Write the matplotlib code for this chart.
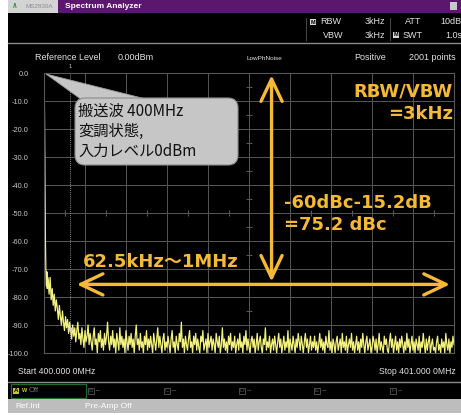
import numpy as np
import matplotlib.pyplot as plt
from matplotlib.patches import Rectangle, FancyBboxPatch, Polygon
from matplotlib.transforms import Affine2D

W, H = 461, 415

# trace data (offset from 400 MHz in kHz, level in dBm)
carrier_offset_khz = [0, 0.5, 1, 1.5, 2, 2.5, 3, 3.5, 4, 4.5, 5, 6, 7, 8, 9]
carrier_level_dbm = [0, -3, -10, -20, -31, -42, -52, -60, -66, -70, -72, -76, -71, -77, -73]

noise_start_khz = 10
noise_step_khz = 2.5
noise_level_dbm = [
    -74, -79, -73, -81, -77, -83, -79, -85, -81, -84, -88, -83, -87, -90, -85, -89, -92, -87, -91, -88,
    -93, -89, -92, -95, -90, -94, -91, -96, -92, -89, -95, -93, -97, -91, -95, -98, -92, -96, -94, -90,
    -97, -93, -96, -99, -94, -91, -97, -95, -100, -93, -96, -92, -98, -95, -99, -93, -97, -94, -89, -96,
    -99, -94, -97, -92, -98, -95, -100, -93, -96, -99, -91, -97, -94, -98, -95, -100, -92, -96, -99, -94,
    -97, -93, -98, -95, -100, -94, -90, -97, -95, -99, -93, -98, -96, -100, -94, -97, -92, -99, -95, -98,
    -94, -97, -100, -93, -96, -99, -95, -91, -98, -94, -97, -100, -95, -93, -99, -96, -98, -94, -97, -100,
    -95, -92, -98, -96, -100, -94, -97, -99, -93, -96, -89, -98, -95, -100, -94, -97, -99, -95, -92, -98,
    -96, -100, -94, -97, -93, -99, -95, -98, -100, -94, -96, -92, -99, -97, -95, -100, -93, -98, -96, -94,
    -99, -95, -97, -100, -93, -96, -98, -94, -100, -97, -91, -98, -95, -99, -96, -100, -94, -97, -93, -99,
    -96, -98, -94, -100, -97, -95, -99, -93, -98, -96, -100, -94, -97, -92, -99, -95, -98, -100, -96, -94,
    -98, -95, -100, -97, -93, -99, -96, -94, -98, -100, -95, -97, -91, -99, -96, -98, -94, -100, -97, -95,
    -99, -94, -97, -100, -96, -93, -98, -95, -100, -97, -94, -99, -96, -98, -92, -100, -95, -97, -99, -94,
    -97, -100, -95, -98, -93, -96, -99, -94, -97, -100, -96, -93, -98, -95, -100, -97, -94, -99, -96, -98,
    -94, -99, -96, -100, -97, -93, -98, -95, -99, -96, -100, -94, -97, -98, -92, -99, -96, -100, -95, -97,
    -100, -96, -94, -99, -97, -95, -100, -93, -98, -96, -99, -94, -100, -97, -95, -98, -93, -99, -96, -100,
    -97, -94, -99, -96, -100, -95, -98, -93, -97, -100, -96, -94, -99, -97, -95, -100, -98, -94, -96, -99,
    -95, -100, -97, -93, -99, -96, -98, -100, -94, -97, -95, -99, -100, -96, -93, -98, -95, -100, -97, -94,
    -99, -96, -100, -95, -98, -94, -97, -100, -96, -99, -93, -98, -95, -100, -97, -94, -99, -96, -100, -95,
    -97, -99, -94, -100, -96, -98, -93, -97, -100, -95, -99, -96, -94, -100, -97, -95, -99, -98, -100, -96,
    -94, -99, -97, -100, -95, -98, -96, -100, -93, -97, -99, -95, -100, -96, -98, -94, -97,
]

marker_khz = 62.5
marker_dbm = -91.5

y_ticks = list(range(-100, 1, 10))
y_labels = [f"{v:.1f}" for v in y_ticks]

orange = '#f6b935'
ui = '#e2e2e2'
gridc = '#575757'

noise_offset_khz = noise_start_khz + noise_step_khz * np.arange(len(noise_level_dbm))
freq = np.concatenate([carrier_offset_khz, noise_offset_khz])
level = np.concatenate([carrier_level_dbm, noise_level_dbm])

plt.rcParams['font.family'] = ['Liberation Sans', 'DejaVu Sans']

fig = plt.figure(figsize=(W / 100, H / 100), dpi=100, facecolor='black')
# pixel coords, origin top-left
pix = Affine2D().scale(1 / 100, -1 / 100).translate(0, H / 100) + fig.dpi_scale_trans


def box(x0, y0, x1, y1, color, **kw):
    fig.add_artist(Rectangle((x0, y0), x1 - x0, y1 - y0, transform=pix, facecolor=color, **kw))


def txt(x, y, s, **kw):
    kw.setdefault('color', ui)
    kw.setdefault('fontsize', 6.5)
    kw.setdefault('va', 'center')
    fig.text(x, y, s, transform=pix, **kw)


ax = fig.add_axes([44 / W, 1 - 353 / H, 410 / W, 280 / H])
ax.set_facecolor('black')
ax.set_xlim(0, 1000)
ax.set_ylim(-100, 0)
ax.set_xticks(np.arange(0, 1001, 100))
ax.set_yticks(y_ticks)
ax.set_yticklabels(y_labels)
ax.tick_params(axis='x', length=0, labelbottom=False)
ax.tick_params(axis='y', length=0, pad=11, labelsize=5.3, labelcolor='#c8c8c8')
ax.grid(True, color=gridc, lw=0.7)
ax.set_axisbelow(True)
for s in ax.spines.values():
    s.set_color(gridc)
    s.set_linewidth(0.8)

# small ticks on the centre lines
ax.plot(np.arange(50, 1000, 100), [-50] * 10, ls='none', marker='|', ms=4, color=gridc, mew=0.8)
ax.plot([500] * 10, np.arange(-95, 0, 10), ls='none', marker='_', ms=4, color=gridc, mew=0.8)

ax.plot(freq, level, color='#f4f27e', lw=0.9)

# marker 1
ax.axvline(marker_khz, color='#b8b8b8', lw=0.6, ls=(0, (1, 1.5)))
ax.plot([marker_khz], [marker_dbm], marker='D', ms=3, color='#d0d0d0', mec='none')
txt(70, 66, '1', fontsize=4, ha='center', color='#d0d0d0')

# double arrows
ap = dict(arrowstyle='<->,head_length=0.8,head_width=0.38', lw=2.4, color=orange,
          mutation_scale=20, shrinkA=0, shrinkB=0)
ax.annotate('', xy=(555, -0.8), xytext=(555, -74.5), arrowprops=ap, annotation_clip=False)
ax.annotate('', xy=(80, -75.5), xytext=(990, -75.5), arrowprops=ap, annotation_clip=False)

# orange notes
note = dict(color=orange, fontsize=13, fontweight='bold', va='baseline',
            family=['DejaVu Sans', 'Noto Sans CJK JP'])
txt(453, 97, 'RBW/VBW', ha='right', **note)
txt(453, 119, '=3kHz', ha='right', **note)
txt(284, 208, '-60dBc-15.2dB', ha='left', **note)
txt(284, 230, '=75.2 dBc', ha='left', **note)
txt(83, 267, '62.5kHz～1MHz', ha='left', **note)

# callout
fig.add_artist(Polygon([(46, 74), (82, 100), (146, 99)], closed=True, transform=pix,
                       facecolor='#c6c6c6', edgecolor='#9a9a9a', lw=0.6))
fig.add_artist(FancyBboxPatch((75, 98), 163, 67, boxstyle='round,pad=0,rounding_size=10',
                              transform=pix, facecolor='#c6c6c6', edgecolor='#8c8c8c', lw=0.8))
call = dict(color='#111111', fontsize=11, va='baseline', family=['Noto Sans CJK JP'])
txt(78, 116, '搬送波 400MHz', **call)
txt(78, 136, '変調状態,', **call)
txt(78, 156, '入力レベル0dBm', **call)

# screen frame
box(0, 0, 8, H, 'white')
box(8, 0, 58, 13, '#d4d4d4')
box(58, 0, W, 13, '#5b176d')
box(450, 2, 457, 10, '#c8c8c8')
txt(15, 6.5, '/\\', fontsize=6, color='#2a9a3a', fontweight='bold', ha='center')
txt(25, 6.5, 'MS2830A', fontsize=4.5, color='#8a8a8a')
txt(65, 6.5, 'Spectrum Analyzer', fontsize=6, color='white', fontweight='bold')

fig.add_artist(plt.Line2D([8, W], [43, 43], transform=pix, color='#8a8a8a', lw=1))
fig.add_artist(plt.Line2D([306, 306], [18, 40], transform=pix, color='#444444', lw=0.8))
fig.add_artist(plt.Line2D([390, 390], [18, 40], transform=pix, color='#444444', lw=0.8))

icon = dict(fontsize=4, color='black', fontweight='bold', ha='center',
            bbox=dict(boxstyle='square,pad=0.1', fc='#d8d8d8', ec='none'))
txt(313, 22, 'M', **icon)
txt(396, 35, 'M', **icon)
txt(320, 22, 'RBW')
txt(343, 35, 'VBW', ha='right')
txt(385, 22, '3kHz', ha='right')
txt(385, 35, '3kHz', ha='right')
txt(405, 22, 'ATT')
txt(403, 35, 'SWT')
txt(440, 22, '10dB')
txt(445, 35, '1.0s')

txt(35, 58, 'Reference Level')
txt(118, 58, '0.00dBm')
txt(264, 58, 'LowPhNoise', fontsize=4.6, ha='center')
txt(354, 58, 'Positive')
txt(456, 58, '2001 points', ha='right')

txt(18, 372, 'Start 400.000 0MHz', fontsize=6.2)
txt(456, 372, 'Stop 401.000 0MHz', fontsize=6.2, ha='right')

fig.add_artist(plt.Line2D([8, W], [382, 382], transform=pix, color='#8a8a8a', lw=1))
fig.add_artist(Rectangle((11, 384), 75, 14, transform=pix, facecolor='none', edgecolor='#1f6b2a', lw=0.9))
txt(16, 391, 'A', fontsize=4.5, color='black', fontweight='bold', ha='center',
    bbox=dict(boxstyle='square,pad=0.15', fc='#c9c23a', ec='none'))
txt(22, 390, 'W', fontsize=4, color='#c9c23a', fontweight='bold')
txt(29, 391, 'Off', fontsize=5.5, color='#777777')
for x, ch in [(91, 'B'), (167, 'C'), (242, 'D'), (317, 'E'), (393, 'F')]:
    txt(x, 391, ch, fontsize=4.5, color='#555555', ha='center',
        bbox=dict(boxstyle='square,pad=0.15', fc='none', ec='#555555', lw=0.6))
    txt(x + 5, 391, '–', fontsize=5.5, color='#777777')

box(8, 399, W, 413, '#bdbdbd')
box(8, 413, W, H, 'white')
txt(15, 406, 'Ref.Int', fontsize=6, color='white')
txt(85, 406, 'Pre-Amp Off', fontsize=6, color='white')

fig.savefig('out.png', dpi=100, facecolor='black')
